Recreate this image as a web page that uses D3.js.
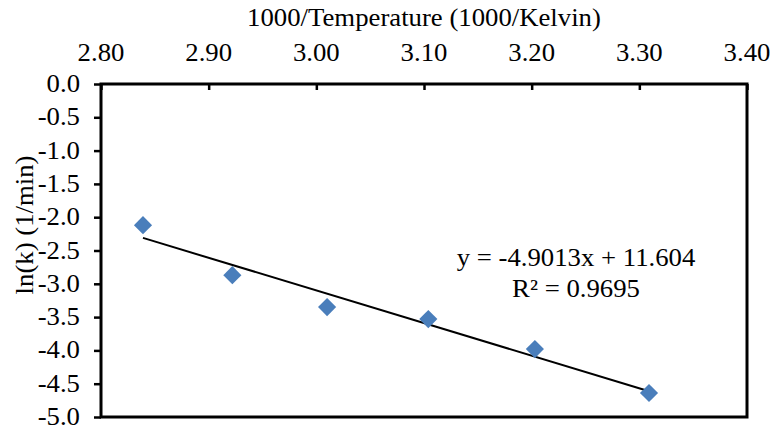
<!DOCTYPE html>
<html>
<head>
<meta charset="utf-8">
<script src="https://cdn.jsdelivr.net/npm/d3@7"></script>
<style>
  body { margin: 0; background: #fff; }
  .lbl { font-family: "Liberation Serif", "Times New Roman", serif; font-size: 25px; fill: #000; }
</style>
</head>
<body>
<div id="chart"></div>
<script>
// data
const invTemp = [2.839, 2.922, 3.010, 3.104, 3.203, 3.309];
const lnK = [-2.12, -2.87, -3.35, -3.53, -3.98, -4.64];
const slope = -4.9013;
const intercept = 11.604;
const xTicks = [2.8, 2.9, 3.0, 3.1, 3.2, 3.3, 3.4];
const yTicks = [0, -0.5, -1, -1.5, -2, -2.5, -3, -3.5, -4, -4.5, -5];

const width = 773;
const height = 430;
const margin = { top: 84, right: 26, bottom: 13, left: 101 };
const stretch = 1.07; // the original text is a little wider than it is tall

const svg = d3.select("#chart")
  .append("svg")
  .attr("width", width)
  .attr("height", height);

const x = d3.scaleLinear().domain([2.8, 3.4]).range([margin.left, width - margin.right]);
const y = d3.scaleLinear().domain([0, -5]).range([margin.top, height - margin.bottom]);

// x axis on top, ticks pointing into the plot
const xAxis = svg.append("g")
  .attr("transform", `translate(0,${margin.top})`)
  .call(d3.axisTop(x).tickValues(xTicks).tickFormat("").tickSize(-6).tickSizeOuter(0));
xAxis.select(".domain").remove();
xAxis.selectAll("line").attr("stroke", "#000").attr("stroke-width", 2.5);

svg.append("g")
  .selectAll("text")
  .data(xTicks)
  .join("text")
  .attr("class", "lbl")
  .attr("text-anchor", "middle")
  .attr("transform", d => `translate(${x(d)},61) scale(${stretch},1)`)
  .text(d => d.toFixed(2));

// y axis, ticks outside
const yAxis = svg.append("g")
  .attr("transform", `translate(${margin.left},0)`)
  .call(d3.axisLeft(y).tickValues(yTicks).tickFormat("").tickSize(7).tickSizeOuter(0));
yAxis.select(".domain").remove();
yAxis.selectAll("line").attr("stroke", "#000").attr("stroke-width", 2.5);

svg.append("g")
  .selectAll("text")
  .data(yTicks)
  .join("text")
  .attr("class", "lbl")
  .attr("text-anchor", "end")
  .attr("transform", d => `translate(${margin.left - 21},${y(d) + 8}) scale(${stretch},1)`)
  .text(d => d.toFixed(1));

// plot frame
svg.append("rect")
  .attr("x", margin.left)
  .attr("y", margin.top)
  .attr("width", width - margin.right - margin.left)
  .attr("height", height - margin.bottom - margin.top)
  .attr("fill", "none")
  .attr("stroke", "#000")
  .attr("stroke-width", 3);

// axis titles
svg.append("text")
  .attr("class", "lbl")
  .attr("transform", `translate(${(margin.left + width - margin.right) / 2},26) scale(${stretch},1)`)
  .attr("text-anchor", "middle")
  .text("1000/Temperature (1000/Kelvin)");

svg.append("text")
  .attr("class", "lbl")
  .attr("transform", `translate(33,225) rotate(-90) scale(${stretch},1)`)
  .attr("text-anchor", "middle")
  .text("ln(k) (1/min)");

// trendline across the data range
const xExt = d3.extent(invTemp);
svg.append("line")
  .attr("x1", x(xExt[0]))
  .attr("y1", y(slope * xExt[0] + intercept))
  .attr("x2", x(xExt[1]))
  .attr("y2", y(slope * xExt[1] + intercept))
  .attr("stroke", "#000")
  .attr("stroke-width", 2);

// diamonds
svg.append("g")
  .selectAll("path")
  .data(invTemp.map((t, i) => [t, lnK[i]]))
  .join("path")
  .attr("transform", d => `translate(${x(d[0])},${y(d[1])})`)
  .attr("d", d3.symbol(d3.symbolDiamond2, 210)())
  .attr("fill", "#4a7ebb");

// equation
const eq = svg.append("g")
  .attr("transform", `translate(576,266) scale(${stretch},1)`);
eq.append("text")
  .attr("class", "lbl")
  .attr("text-anchor", "middle")
  .text("y = -4.9013x + 11.604");
eq.append("text")
  .attr("class", "lbl")
  .attr("y", 31)
  .attr("text-anchor", "middle")
  .text("R² = 0.9695");
</script>
</body>
</html>
